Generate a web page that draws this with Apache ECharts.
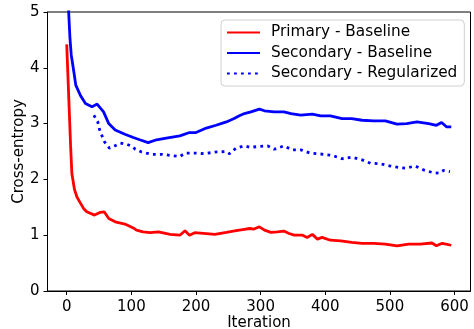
<!DOCTYPE html>
<html><head><meta charset="utf-8">
<script src="https://cdn.jsdelivr.net/npm/echarts@6/dist/echarts.min.js"></script>
<style>html,body{margin:0;padding:0;background:#fff}#c{width:474px;height:329px}</style>
</head><body><div id="c"></div>
<script>
const xTicks = [0, 100, 200, 300, 400, 500, 600];
const yTicks = [0, 1, 2, 3, 4, 5];

const primaryIter = [0, 6, 8, 12, 16, 21, 26, 31, 43, 52, 58, 65, 75, 90, 103, 108, 118, 129, 142, 160, 175, 183, 190, 198, 216, 229, 247, 262, 275, 283, 290, 298, 306, 316, 326, 336, 344, 352, 365, 372, 380, 388, 395, 408, 424, 441, 457, 475, 493, 511, 529, 547, 565, 572, 581, 595];
const primaryBase = [4.42, 2.6, 2.1, 1.82, 1.68, 1.58, 1.48, 1.42, 1.36, 1.41, 1.42, 1.30, 1.24, 1.20, 1.13, 1.09, 1.06, 1.045, 1.06, 1.015, 1.0, 1.08, 1.0, 1.045, 1.03, 1.015, 1.05, 1.08, 1.105, 1.12, 1.11, 1.15, 1.09, 1.05, 1.06, 1.075, 1.03, 1.0, 1.0, 0.96, 1.015, 0.93, 0.96, 0.91, 0.90, 0.87, 0.855, 0.855, 0.84, 0.81, 0.84, 0.84, 0.86, 0.81, 0.855, 0.82];

const secBaseIter = [1, 3, 5, 7, 11, 14, 21, 29, 39, 47, 57, 65, 75, 90, 103, 113, 126, 139, 154, 175, 190, 200, 216, 231, 247, 259, 267, 275, 285, 298, 306, 321, 336, 347, 362, 380, 393, 408, 426, 441, 457, 475, 493, 511, 526, 542, 560, 572, 580, 588, 595];
const secBase = [5.8, 5.0, 4.53, 4.23, 3.93, 3.69, 3.51, 3.36, 3.30, 3.35, 3.21, 3.0, 2.885, 2.81, 2.75, 2.71, 2.66, 2.71, 2.74, 2.78, 2.84, 2.84, 2.92, 2.97, 3.03, 3.09, 3.14, 3.18, 3.21, 3.26, 3.23, 3.21, 3.21, 3.18, 3.15, 3.17, 3.14, 3.14, 3.09, 3.09, 3.06, 3.05, 3.05, 2.99, 3.0, 3.03, 3.0, 2.97, 3.02, 2.94, 2.94];

const secRegIter = [42, 48, 51, 58, 66, 74, 83, 93, 102, 106, 116, 131, 147, 160, 175, 183, 200, 213, 229, 247, 252, 262, 275, 283, 298, 311, 321, 336, 349, 362, 377, 393, 411, 426, 441, 457, 470, 485, 501, 516, 524, 539, 552, 567, 576, 583, 593];
const secReg = [3.15, 3.03, 2.885, 2.68, 2.56, 2.60, 2.65, 2.63, 2.59, 2.54, 2.49, 2.45, 2.45, 2.43, 2.41, 2.47, 2.47, 2.46, 2.49, 2.50, 2.46, 2.56, 2.60, 2.575, 2.59, 2.60, 2.54, 2.60, 2.53, 2.53, 2.47, 2.455, 2.43, 2.37, 2.40, 2.35, 2.29, 2.28, 2.24, 2.21, 2.20, 2.24, 2.17, 2.12, 2.11, 2.16, 2.14];

const names = ['Primary - Baseline', 'Secondary - Baseline', 'Secondary - Regularized'];
const pair = (xs, ys) => xs.map((x, i) => [x, ys[i]]);
const FONT = 'DejaVu Sans';

const chart = echarts.init(document.getElementById('c'), null, {renderer: 'canvas'});
chart.setOption({
  animation: false,
  backgroundColor: '#fff',
  grid: {left: 47.5, right: 3.5, top: 12, bottom: 38, show: true, borderColor: '#000', borderWidth: 1, backgroundColor: 'transparent', containLabel: false, outerBoundsMode: 'none'},
  xAxis: {
    type: 'value', min: -29.75, max: 624.75,
    name: 'Iteration', nameLocation: 'middle', nameGap: 25, nameMoveOverlap: false,
    nameTextStyle: {fontFamily: FONT, fontSize: 15, color: '#000', verticalAlign: 'top'},
    axisLine: {show: true, onZero: false, lineStyle: {color: '#000', width: 1}},
    axisTick: {show: true, inside: false, length: 4, lineStyle: {color: '#000'}, customValues: xTicks},
    axisLabel: {fontFamily: FONT, fontSize: 15, color: '#000', margin: 9, customValues: xTicks},
    splitLine: {show: false}
  },
  yAxis: {
    type: 'value', min: 0, max: 5, interval: 1,
    name: 'Cross-entropy', nameLocation: 'middle', nameGap: 21, nameMoveOverlap: false,
    nameTextStyle: {fontFamily: FONT, fontSize: 15, color: '#000', verticalAlign: 'bottom'},
    axisLine: {show: true, onZero: false, lineStyle: {color: '#000', width: 1}},
    axisTick: {show: true, length: 4, lineStyle: {color: '#000'}},
    axisLabel: {fontFamily: FONT, fontSize: 15, color: '#000', margin: 8, customValues: yTicks},
    splitLine: {show: false}
  },
  legend: {
    orient: 'vertical', left: 221, top: 20,
    padding: [5, 7, 5, 5],
    itemWidth: 33, itemHeight: 17, itemGap: 5.5,
    backgroundColor: 'rgba(255,255,255,0.8)', borderColor: '#d0d0d0', borderWidth: 1, borderRadius: 4,
    itemStyle: {color: 'rgba(0,0,0,0)', borderWidth: 0, opacity: 0},
    textStyle: {fontFamily: FONT, fontSize: 15.3, color: '#000', padding: [0, 0, 0, 6]},
    data: names
  },
  series: [
    {name: names[0], type: 'line', data: pair(primaryIter, primaryBase), showSymbol: false, symbol: 'none', color: '#ff0000', lineStyle: {width: 2.8, color: '#ff0000'}, z: 3},
    {name: names[1], type: 'line', data: pair(secBaseIter, secBase), showSymbol: false, symbol: 'none', color: '#0000ff', lineStyle: {width: 2.8, color: '#0000ff'}, z: 3, clip: true},
    {name: names[2], type: 'line', data: pair(secRegIter, secReg), showSymbol: false, symbol: 'none', color: '#0000ff', lineStyle: {width: 2.8, color: '#0000ff', type: [2.8, 4.2], cap: 'butt'}, z: 3}
  ]
});
</script></body></html>
